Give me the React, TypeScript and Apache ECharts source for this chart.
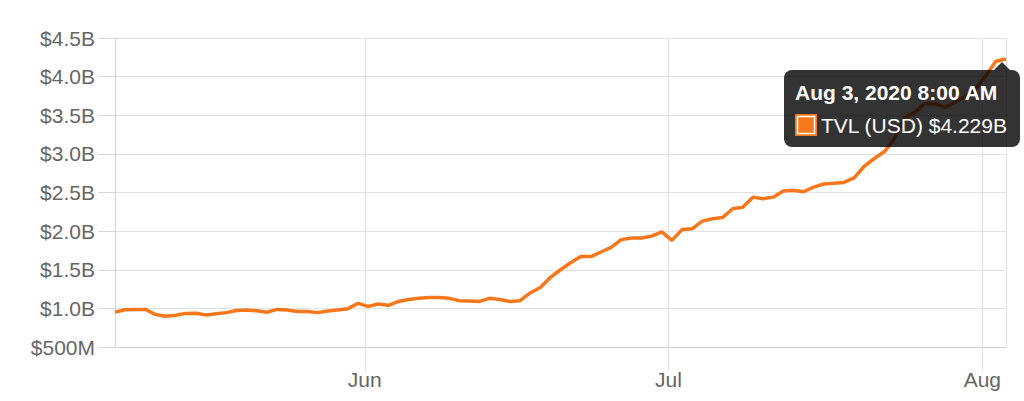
import React, { useEffect, useRef } from "react";
import * as echarts from "echarts";

// Daily TVL (USD, billions), starting May 7, 2020 08:00 (local)
const START = { year: 2020, month: 4, day: 7, hour: 8 };
const tvlBillions: number[] = [
  0.952, 0.983, 0.985, 0.987, 0.92, 0.897, 0.91, 0.935, 0.937, 0.914,
  0.93, 0.945, 0.972, 0.98, 0.97, 0.95, 0.987, 0.978, 0.96, 0.96,
  0.945, 0.965, 0.98, 0.995, 1.065, 1.026, 1.056, 1.04, 1.09, 1.115,
  1.13, 1.14, 1.14, 1.13, 1.1, 1.095, 1.09, 1.13, 1.115, 1.09,
  1.1, 1.2, 1.27, 1.4, 1.5, 1.59, 1.67, 1.67, 1.73, 1.79,
  1.89, 1.91, 1.91, 1.935, 1.99, 1.88, 2.02, 2.03, 2.13, 2.16,
  2.175, 2.29, 2.31, 2.44, 2.42, 2.44, 2.52, 2.53, 2.51, 2.57,
  2.61, 2.62, 2.63, 2.69, 2.84, 2.94, 3.03, 3.2, 3.47, 3.54,
  3.65, 3.65, 3.6, 3.67, 3.75, 3.84, 4.01, 4.2, 4.229,
];
const yTicks = { min: 0.5, max: 4.5, interval: 0.5 };
const seriesName = "TVL (USD)";
const monthNames = ["Jan", "Feb", "Mar", "Apr", "May", "Jun", "Jul", "Aug", "Sep", "Oct", "Nov", "Dec"];

const dates: Date[] = tvlBillions.map(
  (_, i) => new Date(START.year, START.month, START.day + i, START.hour)
);

function fmtTooltipDate(d: Date): string {
  let h = d.getHours();
  const ampm = h >= 12 ? "PM" : "AM";
  h = h % 12;
  if (h === 0) h = 12;
  const mm = String(d.getMinutes()).padStart(2, "0");
  return `${monthNames[d.getMonth()]} ${d.getDate()}, ${d.getFullYear()} ${h}:${mm} ${ampm}`;
}

const ORANGE = "#f7781c";
const FONT = "'Liberation Sans', Arial, Helvetica, sans-serif";

export default function App() {
  const ref = useRef<HTMLDivElement>(null);
  useEffect(() => {
    if (!ref.current) return;
    const chart = echarts.init(ref.current, undefined, { renderer: "svg" });
    const data = dates.map((d, i) => [d.getTime(), tvlBillions[i]]);
    const lastIdx = tvlBillions.length - 1;
    const lastDate = dates[lastIdx];
    const lastVal = tvlBillions[lastIdx];

    chart.setOption({
      animation: false,
      backgroundColor: "#ffffff",
      textStyle: { fontFamily: FONT },
      grid: { left: 115, right: 18, top: 38, bottom: 54, containLabel: false },
      xAxis: {
        type: "time",
        min: dates[0].getTime(),
        max: lastDate.getTime(),
        minInterval: 28 * 24 * 3600 * 1000,
        splitNumber: 3,
        axisLine: { show: true, lineStyle: { color: "#d0d0d0", width: 1 } },
        axisTick: { show: true, length: 24, lineStyle: { color: "#e2e2e2" } },
        splitLine: { show: true, lineStyle: { color: "#e2e2e2", width: 1 } },
        axisLabel: {
          color: "#666666",
          fontSize: 21,
          fontFamily: FONT,
          margin: 22,
          showMinLabel: false,
          showMaxLabel: false,
          formatter: (value: number) => {
            const d = new Date(value);
            return d.getDate() === 1 && d.getHours() === 0 ? monthNames[d.getMonth()] : "";
          },
        },
      },
      yAxis: {
        type: "value",
        min: yTicks.min,
        max: yTicks.max,
        interval: yTicks.interval,
        axisLine: { show: true, lineStyle: { color: "#d6d6d6", width: 1 } },
        axisTick: { show: true, length: 17, lineStyle: { color: "#d6d6d6" } },
        splitLine: { show: true, lineStyle: { color: "#e2e2e2", width: 1 } },
        axisLabel: {
          color: "#666666",
          fontSize: 21,
          fontFamily: FONT,
          margin: 20,
          formatter: (v: number) =>
            v < 1 ? `$${Math.round(v * 1000)}M` : `$${v.toFixed(1)}B`,
        },
      },
      series: [
        {
          name: seriesName,
          type: "line",
          data,
          showSymbol: false,
          symbol: "none",
          lineStyle: { color: ORANGE, width: 3.5 },
          itemStyle: { color: ORANGE },
          z: 2,
        },
      ],
      graphic: [
        {
          type: "rect",
          shape: { x: 784, y: 70, width: 236, height: 77, r: 8 },
          style: { fill: "rgba(0,0,0,0.8)" },
          z: 100,
        },
        {
          type: "polygon",
          shape: { points: [[994, 70], [1002, 62], [1010, 70]] },
          style: { fill: "rgba(0,0,0,0.8)" },
          z: 100,
        },
        {
          type: "text",
          x: 795,
          y: 92,
          style: {
            text: fmtTooltipDate(lastDate),
            fill: "#ffffff",
            font: `bold 21px ${FONT}`,
            verticalAlign: "middle",
            align: "left",
          },
          z: 101,
        },
        {
          type: "rect",
          shape: { x: 795, y: 114, width: 22, height: 22 },
          style: { fill: ORANGE },
          z: 101,
        },
        {
          type: "rect",
          shape: { x: 797.5, y: 116.5, width: 17, height: 17 },
          style: { fill: "none", stroke: "#ffffff", lineWidth: 1.5 },
          z: 102,
        },
        {
          type: "text",
          x: 821,
          y: 125,
          style: {
            text: `${seriesName} $${lastVal.toFixed(3)}B`,
            fill: "#ffffff",
            font: `21px ${FONT}`,
            verticalAlign: "middle",
            align: "left",
          },
          z: 101,
        },
      ],
    });
    return () => chart.dispose();
  }, []);
  return (
    <div
      ref={ref}
      style={{ position: "fixed", left: 0, top: 0, width: 1024, height: 401 }}
    />
  );
}
